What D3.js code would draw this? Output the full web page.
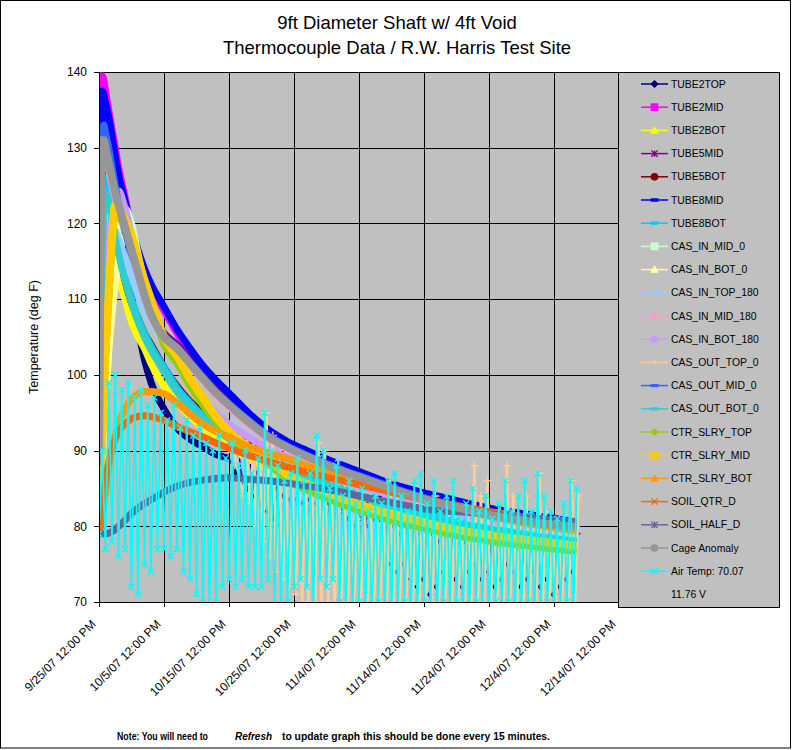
<!DOCTYPE html>
<html><head><meta charset="utf-8">
<script src="https://cdn.jsdelivr.net/npm/d3@7"></script>
<style>
body{margin:0;background:#fff}
svg{display:block}
text{font-family:"Liberation Sans",Arial,sans-serif;fill:#000}
</style>
</head><body>
<svg id="chart" width="795" height="750"></svg>
<script>
// ---------------- DATA ----------------
const titleLines = ["9ft Diameter Shaft w/ 4ft Void", "Thermocouple Data / R.W. Harris Test Site"];
const yLabel = "Temperature (deg F)";
const yTicks = [70, 80, 90, 100, 110, 120, 130, 140];
const xTicks = ["2007-09-25T12:00Z","2007-10-05T12:00Z","2007-10-15T12:00Z","2007-10-25T12:00Z","2007-11-04T12:00Z","2007-11-14T12:00Z","2007-11-24T12:00Z","2007-12-04T12:00Z","2007-12-14T12:00Z"];
const startTime = "2007-09-25T12:00Z";
// elapsed days of the sampled readings
const days = [0,0.25,0.5,0.75,1,1.5,2,2.5,3,4,5,6,7,8,10,12,14,16,18,20,23,26,29,32,35,38,41,44,47,50,53,56,59,62,65,68,71,73.5];

const tube2top = [95,132,139,138,136,132,128,124,120,115,110,106,102,99,95.5,93,91.5,90.5,89.5,89];
const tube2topHi = [90,89,88,87,86,86,85,84,83.5,83.5,83,83.5,83,83.5,83,83,82,81,80,81,83,84,84,82,80,79,80,81,79,80,79,78,79,80,79,78,80,79,78,80,79,78,80,79,78,79,80,78,79,78,79,78,79];
const tube2topLo = [87,86,85,84,83,82,81,80,80.5,80.5,80.5,80.5,81,80.5,80.5,79,77,76,78,77,80,81,81,76,75,74,75,73,72,73,71,72,74,75,73,72,74,75,73,74,72,73,75,74,72,73,74,72,73,71,72,73,74];
const tube2mid = [95,133,139.5,139,137.5,135,132.5,130,127.5,123.5,119.5,116.3,113.6,111.5,108.5,105.5,103,100.7,98.8,97.1,94.6,92.4,90.8,89.6,88.5,87.5,86.5,85.5,84.7,84,83.4,82.8,82.2,81.7,81.3,80.9,80.5,80.2];
const tube2bot = [85,95,108,118,123,124,119,115.5,113,110,107,105,103.5,101.5,98.5,96.3,94.5,93,91.6,90.4,88.9,87.6,86.4,85.3,84.3,83.4,82.6,81.9,81.2,80.6,80,79.5,79,78.6,78.2,77.8,77.4,77.1];
const tube5mid = [90,122,136.5,136,134.5,132,129.5,127,124.5,121,117.5,114.5,111,108.5,105.5,104,102,100,98.1,96.5,94.3,92.3,90.9,89.7,88.6,87.6,86.7,85.8,84.9,84.1,83.4,82.8,82.2,81.7,81.3,80.9,80.6,80.4];
const tube5bot = [88,118,131,131,129,125,121.5,118.5,116,112.5,109.5,107.5,105.5,104,101,98.5,96.5,95,93.8,92.8,91.4,90.1,89,88,87.1,86.2,85.4,84.6,83.9,83.2,82.6,82,81.5,81,80.6,80.2,79.8,79.5];
const tube8mid = [92,125,137.5,137,136,134,131.5,129,126.5,123,119.5,116.5,114,112,109,106,103.5,101.2,99.3,97.6,95,92.8,91.2,90,88.9,87.9,86.9,85.9,85.1,84.4,83.8,83.2,82.6,82.1,81.7,81.3,80.9,80.6];
const tube8bot = [86,100,115,123,126,125,122,119.5,117,113,110,107.5,105.5,103.8,101,98.3,96.3,94.6,93.2,92,90.4,89,87.8,86.7,85.7,84.8,83.9,83.1,82.4,81.7,81.1,80.5,80,79.6,79.2,78.8,78.5,78.2];
const casInMid0 = [82,85,90,95,100,107,112,116,119,122,120,116,112,108,105,103.5,101.5,99.5,97.6,96,93.8,91.8,90.4,89.2,88.1,87.1,86.2,85.3,84.4,83.6,82.9,82.3,81.7,81.2,80.8,80.4,80.1,79.9];
const casInBot0 = [82,84,88,92,96,103,108,112,115,118.5,117,113.3,110.3,107.8,104.8,103.3,101.3,99.3,97.4,95.8,93.6,91.6,90.2,89,87.9,86.9,86,85.1,84.2,83.4,82.7,82.1,81.5,81,80.6,80.2,79.9,79.7];
const casInTop180 = [84,95,105,112,116,119,119.5,119,118,115.5,113,110.5,108.5,107,104,101,98.8,96.8,95.3];
const casInTop180Hi = [94,93,92,92,91,91,90,90,89,89,88,88,88,89,87,87,89,86,86,85,85,86,84,84,85,84,83,83,84,83,82,83,82,82,81,82,81,82,81,80,81,80,81,80,80,81,80,80,79,80,79,80,79,80];
const casInTop180Lo = [90,88,86,84,82,80,79,78,78,77,78,76,77,75,76,74,75,76,74,75,73,74,75,73,74,72,74,73,72,71,72,71,70,72,71,70,72,71,70,72,71,70,72,71,70,71,72,70,71,70,71,70,72,71];
const casInMid180 = [87,117,130,130,129,127,125,123,121.5,119.2,116.2,113.2,110.2,107.7,104.7,103.2,101.2,99.2,97.3,95.7,93.5,91.5,90.1,88.9,87.8,86.8,85.9,85,84.1,83.3,82.6,82,81.4,80.9,80.5,80.1,79.8,79.6];
const casInBot180 = [84,92,100,107,112,118,121.5,123.5,124.3,122,118.5,115,112,109.5,105,101.5,99,96.8,95,93.5,91.8,90.3,89,87.9,86.9,86,85.1,84.3,83.5,82.8,82.1,81.5,80.9,80.4,80,79.6,79.3,79];
const casOutTop0 = [82,86,92,98,103,111,118,122.5,122,120.5,118.5,115.5,112.5,110,105,102.5,99.5,97,94.5,92.5];
const casOutTop0Hi = [89,90,88,95,92,88,86,85,84,86,88,91,90,84,82,83,82,81,84,82,80,81,86,85,82,80,83,84,81,84,80,83,82,80,82,88,84,86,80,82,88,84,81,84,80,87,82,80,79,81,86,84];
const casOutTop0Lo = [84,83,80,78,76,74,73,72,71,70,70,70,69,70,69,70,69,70,69,68,69,70,69,68,69,70,69,68,69,70,69,68,69,70,69,68,69,70,69,68,69,70,69,68,69,70,69,68,69,70,69,70];
const casOutMid0 = [88,118,132,133,132,130,127.5,125,122.5,119,116,113.7,110.7,108.2,105.2,103.7,101.7,99.7,97.8,96.2,94,92,90.6,89.4,88.3,87.3,86.4,85.5,84.6,83.8,83.1,82.5,81.9,81.4,81,80.6,80.3,80.1];
const casOutBot0 = [86,102,116,122,124,123,120.5,118,116,112.5,109.5,107,105,103.3,100.5,97.8,95.8,94.2,92.8,91.6,90,88.7,87.5,86.5,85.5,84.6,83.7,82.9,82.2,81.5,80.9,80.3,79.8,79.4,79,78.6,78.3,78];
const ctrSlryTop = [81,85,91,97,102,110,117,121.5,121,119.5,117.5,114.5,111.5,109,104,101.5,98.5,96,93.8,91.8,89.8,88.3,86,84.8,83.7,82.7,81.8,81,80.3,79.7,79.1,78.6,78.2,77.8,77.5,77.2,76.9,76.7];
const ctrSlryMid = [82,86,92,98,103,111,118,122.5,122,120.5,118.5,115.5,112.5,110,105,102.5,99.5,97,94.5,92.5,90.5,89,86.8,85.6,84.5,83.5,82.6,81.8,81.1,80.5,79.9,79.4,79,78.6,78.3,78,77.7,77.4];
const ctrSlryBot = [80,80.5,81.5,83,84.5,87.5,90,92,93.5,95.5,96.8,97.5,97.8,97.8,97.5,96.3,94.8,93.5,92.5,91.8,90.5,89.7,88.9,88,87.2,86.4,85.6,84.8,84.1,83.4,82.7,82.1,81.5,81,80.5,80.1,79.7,79.4];
const soilQtrD = [79.5,80,82,84,86,88.5,90.2,91.5,92.5,93.5,94.2,94.5,94.6,94.5,94,93.2,92.5,91.8,91,90.3,89.4,88.6,87.8,87.1,86.5,85.9,85.3,84.7,84.1,83.6,83.1,82.6,82.1,81.7,81.3,80.9,80.6,80.3];
const soilHalfD = [79,79,79,79,79,79.1,79.3,79.6,80,80.8,81.7,82.4,83,83.5,84.5,85.3,85.8,86.1,86.3,86.4,86.2,86,85.7,85.3,84.9,84.4,83.8,83.3,82.8,82.3,82,81.9,81.7,81.5,81.3,81,80.8,80.6];
const cageAnomaly = [88,118,131,131,130,128,126,124,122.5,119.5,116.5,113.5,110.5,108,105,103.5,101.5,99.5,97.6,96,93.8,91.8,90.4,89.2,88.1,87.1,86.2,85.3,84.4,83.6,82.9,82.3,81.7,81.2,80.8,80.4,80.1,79.9];
// air temperature: daily high / low, one pair per day from day 0
const airHi = [90,99,100,98,99,97,98,96,97,95,94,96,93,94,92,93,91,90,92,89,91,88,90,87,89,95,90,88,86,87,89,86,87,92,90,85,88,84,86,83,85,82,84,83,86,87,84,82,86,87,83,86,82,84,86,81,83,85,82,84,81,83,86,82,84,86,82,87,84,82,81,83,86,85];
const airLo = [79,77,78,76,77,72,71,75,74,77,77,76,77,74,73,71,70,69,70,72,73,72,73,72,72,72,73,68,69,70,72,73,72,69,73,72,73,70,68,69,70,69,68,70,69,68,69,70,68,69,70,69,68,70,69,70,68,69,70,69,68,70,69,70,68,69,70,68,69,70,68,69,70,69];
const noteParts = ["Note: You will need to", "Refresh", "to update graph this should be done every 15 minutes."];

const series = [
  {name:"TUBE2TOP", color:"#000080", marker:"diamond", vals:tube2top, noise:{start:21, hi:tube2topHi, lo:tube2topLo, w:1.3, phase:0, ms:3}},
  {name:"TUBE2MID", color:"#FF00FF", marker:"square", vals:tube2mid},
  {name:"TUBE2BOT", color:"#FFFF00", marker:"triangle", vals:tube2bot},
  {name:"TUBE5MID", color:"#800080", marker:"star", vals:tube5mid},
  {name:"TUBE5BOT", color:"#800000", marker:"circle", vals:tube5bot},
  {name:"TUBE8MID", color:"#0000FF", marker:"dash", vals:tube8mid},
  {name:"TUBE8BOT", color:"#00CCFF", marker:"dash", vals:tube8bot},
  {name:"CAS_IN_MID_0", color:"#CCFFCC", marker:"square", vals:casInMid0},
  {name:"CAS_IN_BOT_0", color:"#FFFF99", marker:"triangle", vals:casInBot0},
  {name:"CAS_IN_TOP_180", color:"#99CCFF", marker:"x", vals:casInTop180, noise:{start:20, hi:casInTop180Hi, lo:casInTop180Lo, w:2.2, phase:0.3, ms:3}},
  {name:"CAS_IN_MID_180", color:"#FF99CC", marker:"star", vals:casInMid180},
  {name:"CAS_IN_BOT_180", color:"#CC99FF", marker:"circle", vals:casInBot180},
  {name:"CAS_OUT_TOP_0", color:"#FFCC99", marker:"plus", vals:casOutTop0, noise:{start:22, hi:casOutTop0Hi, lo:casOutTop0Lo, w:2.6, phase:0.25, ms:4}},
  {name:"CAS_OUT_MID_0", color:"#3366FF", marker:"dash", vals:casOutMid0},
  {name:"CAS_OUT_BOT_0", color:"#33CCCC", marker:"dash", vals:casOutBot0},
  {name:"CTR_SLRY_TOP", color:"#99CC00", marker:"diamond", vals:ctrSlryTop},
  {name:"CTR_SLRY_MID", color:"#FFCC00", marker:"square", vals:ctrSlryMid},
  {name:"CTR_SLRY_BOT", color:"#FF9900", marker:"triangle", vals:ctrSlryBot},
  {name:"SOIL_QTR_D", color:"#FF6600", marker:"x", vals:soilQtrD},
  {name:"SOIL_HALF_D", color:"#666699", marker:"star", vals:soilHalfD},
  {name:"Cage Anomaly", color:"#969696", marker:"circle", vals:cageAnomaly},
  {name:"Air Temp: 70.07", color:"#00FFFF", marker:"x", noise:{start:0, hi:airHi, lo:airLo, w:1.7, phase:0, ms:3}},
  {name:"11.76 V", color:null, marker:null}
];

// ---------------- CHART ----------------
const svg = d3.select("#chart");
const plotL = 99, plotR = 619, plotT = 72, plotB = 602;
const t0 = new Date(startTime).getTime();
const toDate = t => new Date(t0 + t * 864e5);

const x = d3.scaleUtc().domain([new Date(xTicks[0]), new Date(xTicks[xTicks.length-1])]).range([plotL, plotR]);
const y = d3.scaleLinear().domain([70, 140]).range([plotB, plotT]);

svg.append("rect").attr("x",0.5).attr("y",0.5).attr("width",790).attr("height",747.5)
  .attr("fill","#fff").attr("stroke","#000").attr("stroke-width",1);

// titles
svg.selectAll("text.title").data(titleLines).join("text").attr("class","title")
  .attr("x", 397).attr("y", (d,i)=>29 + i*25).attr("text-anchor","middle")
  .style("font-size","18.5px").text(d=>d);

// plot background
svg.append("rect").attr("x",plotL).attr("y",plotT).attr("width",plotR-plotL).attr("height",plotB-plotT).attr("fill","#C0C0C0");

// gridlines
svg.append("g").attr("transform",`translate(${plotL},0)`)
  .call(d3.axisLeft(y).tickValues(yTicks.slice(1)).tickSize(-(plotR-plotL)).tickFormat(""))
  .call(g=>g.select(".domain").remove())
  .selectAll("line").attr("stroke","#000").attr("shape-rendering","crispEdges");
svg.append("g").attr("transform",`translate(0,${plotB})`)
  .call(d3.axisBottom(x).tickValues(xTicks.slice(1).map(d=>new Date(d))).tickSize(-(plotB-plotT)).tickFormat(""))
  .call(g=>g.select(".domain").remove())
  .selectAll("line").attr("stroke","#000").attr("shape-rendering","crispEdges");

// data
svg.append("clipPath").attr("id","clip").append("rect")
  .attr("x",plotL).attr("y",plotT).attr("width",plotR-plotL).attr("height",plotB-plotT);
const plot = svg.append("g").attr("clip-path","url(#clip)");

const smoothLine = d3.line().x(d=>x(toDate(d[0]))).y(d=>y(d[1])).curve(d3.curveMonotoneX);
const rawLine = d3.line().x(d=>x(toDate(d[0]))).y(d=>y(d[1]));

function markerPath(type, s){
  switch(type){
    case "diamond": return `M0,${-s}L${s},0L0,${s}L${-s},0Z`;
    case "square": return `M${-s},${-s}H${s}V${s}H${-s}Z`;
    case "triangle": return `M0,${-s}L${s},${s*0.8}L${-s},${s*0.8}Z`;
    case "circle": return d3.symbol(d3.symbolCircle, Math.PI*s*s)();
    case "dash": return `M${-s},-1H${s}V1H${-s}Z`;
    case "x": return `M${-s},${-s}L${s},${s}M${-s},${s}L${s},${-s}`;
    case "plus": return `M${-s},0H${s}M0,${-s}V${s}`;
    case "star": return `M${-s},${-s}L${s},${s}M${-s},${s}L${s},${-s}M0,${-s}V${s}`;
  }
  return "";
}
const filledMarkers = new Set(["diamond","square","triangle","circle","dash"]);

series.forEach(s=>{
  if(!s.color) return;
  const g = plot.append("g");
  let last = null;
  if(s.vals){
    const pts = s.vals.map((v,i)=>[days[i], v]);
    last = pts[pts.length-1];
    const wide = (s.name==="Cage Anomaly"||s.name==="CTR_SLRY_MID") ? 8 : 7;
    g.append("path").attr("d", smoothLine(pts)).attr("fill","none")
      .attr("stroke", s.color).attr("stroke-width", wide).attr("stroke-linejoin","round");
  }
  if(s.noise){
    const n = s.noise;
    const pts = [];
    n.hi.forEach((h,k)=>{ pts.push([n.start+k+n.phase, n.lo[k]]); pts.push([n.start+k+n.phase+0.5, h]); });
    const all = last ? [last].concat(pts) : pts;
    g.append("path").attr("d", rawLine(all)).attr("fill","none")
      .attr("stroke", s.color).attr("stroke-width", n.w);
    const fill = filledMarkers.has(s.marker);
    g.selectAll("path.m").data(pts).join("path").attr("class","m")
      .attr("transform", d=>`translate(${x(toDate(d[0]))},${y(d[1])})`)
      .attr("d", markerPath(s.marker, n.ms))
      .attr("fill", fill ? s.color : "none")
      .attr("stroke", s.color).attr("stroke-width", 1.4);
  }
});

// axes
const yAxis = svg.append("g").attr("transform",`translate(${plotL},0)`)
  .call(d3.axisLeft(y).tickValues(yTicks).tickSize(5).tickPadding(7).tickSizeOuter(0));
yAxis.selectAll("text").style("font-size","12px").attr("fill","#000");
yAxis.selectAll("line,path").attr("stroke","#000").attr("shape-rendering","crispEdges");

const fmt = d3.utcFormat("%-m/%-d/%y %-I:%M %p");
const xAxis = svg.append("g").attr("transform",`translate(0,${plotB})`)
  .call(d3.axisBottom(x).tickValues(xTicks.map(d=>new Date(d))).tickSize(5).tickSizeOuter(0).tickFormat(fmt));
xAxis.selectAll("line,path").attr("stroke","#000").attr("shape-rendering","crispEdges");
xAxis.selectAll("text").style("font-size","12px").attr("fill","#000")
  .attr("x",0).attr("y",0).attr("dy","0.35em")
  .attr("text-anchor","end").attr("transform","translate(-6,20) rotate(-45)");

svg.append("text").attr("transform","translate(38,337) rotate(-90)")
  .attr("text-anchor","middle").style("font-size","12.5px").text(yLabel);

// legend
const lg = svg.append("g");
lg.append("rect").attr("x",618.5).attr("y",72.5).attr("width",161).attr("height",535)
  .attr("fill","#C0C0C0").attr("stroke","#000");
series.forEach((s,i)=>{
  const cy = 84 + i*23.2;
  if(s.color){
    lg.append("line").attr("x1",641).attr("x2",668).attr("y1",cy).attr("y2",cy)
      .attr("stroke",s.color).attr("stroke-width",1.5);
    const fill = filledMarkers.has(s.marker);
    lg.append("path").attr("transform",`translate(654.5,${cy})`)
      .attr("d", markerPath(s.marker, 3.2))
      .attr("fill", fill ? s.color : "none").attr("stroke", s.color).attr("stroke-width",1.3);
  }
  lg.append("text").attr("x",671).attr("y",cy).attr("dy","0.35em")
    .style("font-size","10.4px").text(s.name);
});

// note
svg.append("text").attr("x",117).attr("y",739.5).style("font-size","10px").style("font-weight","bold")
  .attr("textLength",91).attr("lengthAdjust","spacingAndGlyphs").text(noteParts[0]);
svg.append("text").attr("x",235).attr("y",739.5).style("font-size","11px").style("font-style","italic").style("font-weight","bold")
  .attr("textLength",37).attr("lengthAdjust","spacingAndGlyphs").text(noteParts[1]);
svg.append("text").attr("x",282).attr("y",739.5).style("font-size","10px").style("font-weight","bold")
  .attr("textLength",268).attr("lengthAdjust","spacingAndGlyphs").text(noteParts[2]);
</script>
</body></html>
